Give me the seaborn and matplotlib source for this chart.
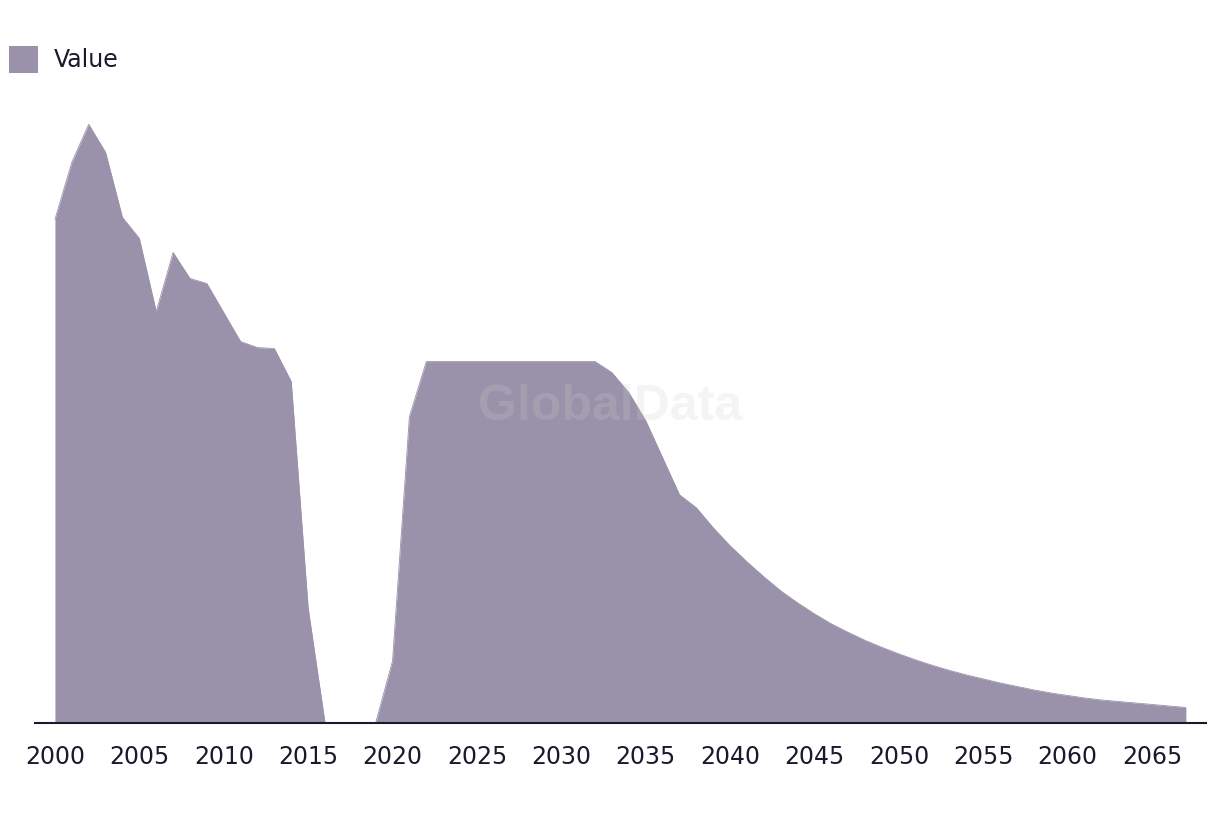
import numpy as np
import pandas as pd
import matplotlib
matplotlib.use('Agg')
import matplotlib.pyplot as plt
import seaborn as sns

# %% data (arbitrary units, no y scale shown)
years = list(range(2000, 2068))
values = [
    503, 560, 598, 570, 505, 484, 411, 470, 444, 439,   # 2000-2009
    410, 381, 375, 374, 341, 115, 0, 0, 0, 0,           # 2010-2019
    62, 306, 361, 361, 361, 361, 361, 361, 361, 361,    # 2020-2029
    361, 361, 361, 350, 330, 302, 265, 228, 215, 195,   # 2030-2039
    177, 161, 146, 132, 120, 109, 99, 90.5, 82.5, 75.5, # 2040-2049
    69, 63, 57.5, 52.5, 48, 44, 40, 36.5, 33, 30,       # 2050-2059
    27.5, 25, 23, 21.5, 20, 18.5, 17, 15.5,             # 2060-2067
]
tick_years = list(range(2000, 2066, 5))
series_name = 'Value'

df = pd.DataFrame({'year': years, 'value': values})

area_color = '#9a91aa'
text_color = '#1a1a2e'

# %% plot
sns.set_theme(style='white')
plt.rcParams['font.family'] = ['DejaVu Sans']

fig = plt.figure(figsize=(12.2, 8.14), dpi=100)
ax = fig.add_axes([0.0287, 0.1118, 0.9598, 0.765])

sns.lineplot(data=df, x='year', y='value', color=area_color, linewidth=0.6, ax=ax)
ax.fill_between(df['year'], df['value'], color=area_color, linewidth=0, label=series_name)

ax.set_xlim(1998.82, 2068.19)
ax.set_ylim(0, 622)
ax.set_xticks(tick_years)
ax.set_xticklabels([str(y) for y in tick_years])
ax.set_yticks([])
ax.set_xlabel('')
ax.set_ylabel('')
ax.tick_params(axis='x', length=0, pad=15.5, labelsize=17, labelcolor=text_color)

for side in ['top', 'left', 'right']:
    ax.spines[side].set_visible(False)
ax.spines['bottom'].set_color(text_color)
ax.spines['bottom'].set_linewidth(1.5)

# legend top-left
handles, labels = ax.get_legend_handles_labels()
fig.legend(handles, labels, loc='upper left', bbox_to_anchor=(-0.004, 0.961),
           frameon=False, fontsize=17, handlelength=1.2, handleheight=1.4,
           handletextpad=0.68, borderaxespad=0.2, labelcolor=text_color)

# watermark
fig.text(0.5, 0.5, 'GlobalData', ha='center', va='center', fontsize=36,
         fontweight='bold', family='Liberation Sans', color='#cdcdcd',
         alpha=0.22, zorder=10)

fig.savefig('out.png', dpi=100)
